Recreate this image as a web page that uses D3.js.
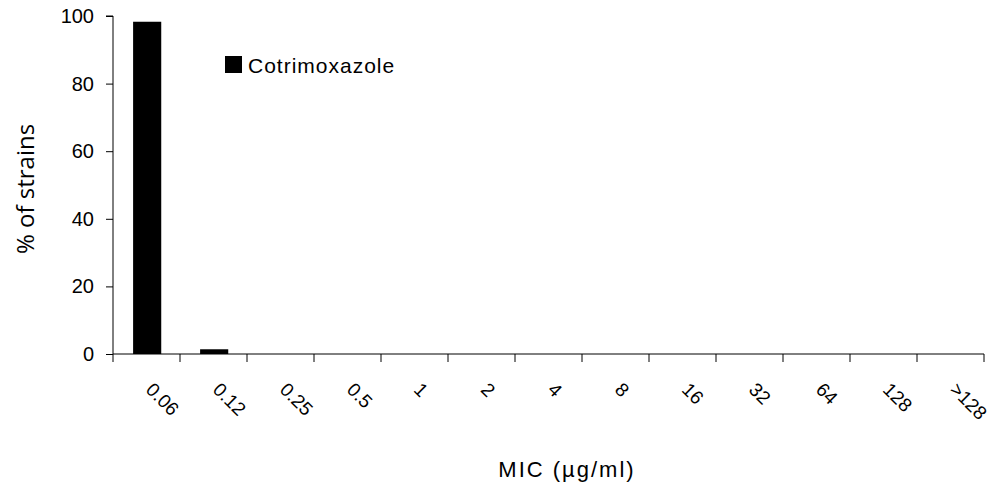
<!DOCTYPE html>
<html>
<head>
<meta charset="utf-8">
<script src="https://cdn.jsdelivr.net/npm/d3@7"></script>
<style>
  body { margin: 0; background: #fff; }
  text { font-family: "Liberation Sans", Arial, sans-serif; fill: #000; }
</style>
</head>
<body>
<div id="chart"></div>
<script>
// MIC categories and % of strains
const micLabels = ["0.06", "0.12", "0.25", "0.5", "1", "2", "4", "8", "16", "32", "64", "128", ">128"];
const pctStrains = [98.3, 1.4, 0, 0, 0, 0, 0, 0, 0, 0, 0, 0, 0];
const yTicks = [0, 20, 40, 60, 80, 100];
const seriesName = "Cotrimoxazole";

const W = 995, H = 496;
const margin = { top: 16, right: 11, bottom: 142, left: 113 };
const width = W - margin.left - margin.right;
const height = H - margin.top - margin.bottom;

const svg = d3.select("#chart").append("svg")
    .attr("width", W)
    .attr("height", H);

const g = svg.append("g")
    .attr("transform", "translate(" + margin.left + "," + margin.top + ")");

const xBand = d3.scaleBand().domain(micLabels).range([0, width]);

const y = d3.scaleLinear()
    .domain([0, 100])
    .range([height, 0]);

// bars
g.selectAll(".bar")
    .data(micLabels.map((d, i) => ({ mic: d, value: pctStrains[i] })))
    .enter()
    .append("rect")
    .attr("class", "bar")
    .attr("x", d => xBand(d.mic) + xBand.bandwidth() * 0.3)
    .attr("width", xBand.bandwidth() * 0.42)
    .attr("y", d => y(d.value))
    .attr("height", d => height - y(d.value))
    .style("fill", "#000");

// y axis
const yAxis = g.append("g")
    .call(d3.axisLeft(y).tickValues(yTicks).tickSize(7).tickPadding(12).tickFormat(d3.format("d")));
yAxis.select(".domain").attr("d", "M-7,0H0V" + height);
yAxis.selectAll("text").style("font-size", "20px");

// x axis: ticks at band edges
const edges = micLabels.map(d => xBand(d)).concat([width]);
const xAxis = g.append("g").attr("transform", "translate(0," + height + ")");
xAxis.append("line")
    .attr("x1", 0).attr("x2", width)
    .attr("stroke", "#000");
xAxis.selectAll(".xtick")
    .data(edges)
    .enter()
    .append("line")
    .attr("x1", d => d).attr("x2", d => d)
    .attr("y1", 0).attr("y2", 8)
    .attr("stroke", "#000");

xAxis.selectAll(".xlabel")
    .data(micLabels)
    .enter()
    .append("text")
    .attr("transform", d => "translate(" + (xBand(d) + xBand.bandwidth() / 2 + 3) + ",32) rotate(45)")
    .attr("text-anchor", "start")
    .attr("dy", "0.35em")
    .style("font-size", "19px")
    .text(d => d);

// axis titles
svg.append("text")
    .attr("transform", "translate(34," + (margin.top + height / 2 + 4) + ") rotate(-90)")
    .attr("text-anchor", "middle")
    .style("font-family", "'Open Sans', 'Noto Sans', sans-serif")
    .style("font-size", "24px")
    .text("% of strains");

svg.append("text")
    .attr("x", 567)
    .attr("y", 477)
    .attr("text-anchor", "middle")
    .style("font-size", "22px")
    .style("letter-spacing", "2px")
    .text("MIC (µg/ml)");

// legend
const legend = svg.append("g").attr("transform", "translate(225,56)");
legend.append("rect")
    .attr("width", 17).attr("height", 17)
    .style("fill", "#000");
legend.append("text")
    .attr("x", 23).attr("y", 17)
    .style("font-size", "21px")
    .style("letter-spacing", "1px")
    .text(seriesName);
</script>
</body>
</html>
